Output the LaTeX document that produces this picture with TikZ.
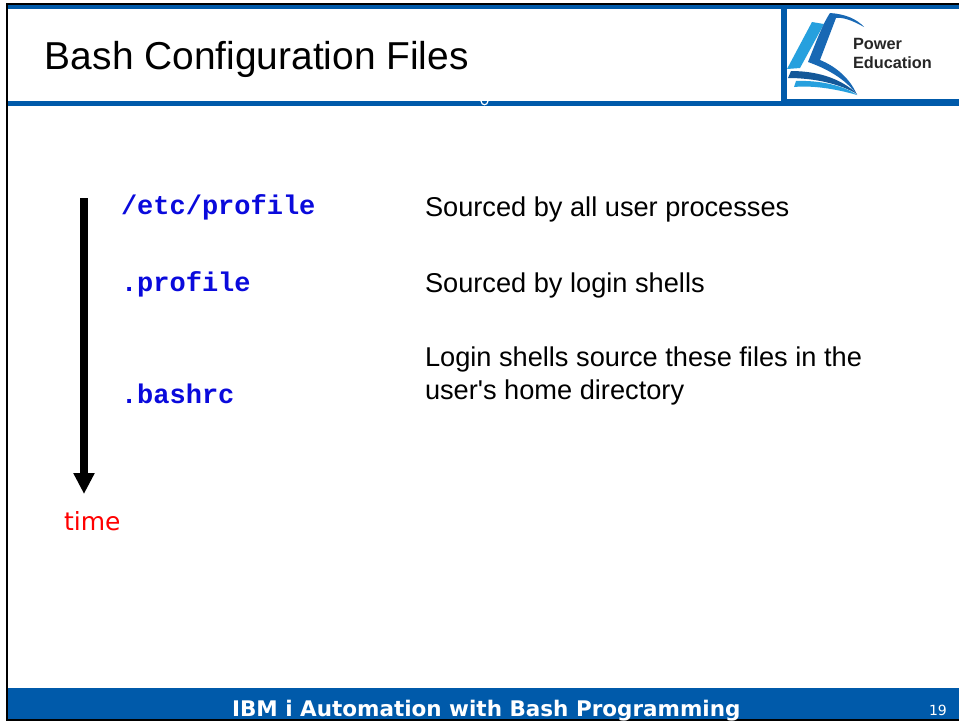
\documentclass[tikz,border=0pt]{standalone}
\usepackage{fontspec}
\usetikzlibrary{arrows.meta}
\setmainfont{Liberation Sans}
\newfontfamily\bodyfont{Liberation Sans}
\newfontfamily\codefont{Liberation Mono}
\newfontfamily\footfont{DejaVu Sans}
\definecolor{barblue}{RGB}{0,90,170}
\definecolor{codeblue}{RGB}{10,10,220}
\definecolor{logoA}{RGB}{38,160,222}
\definecolor{logoB}{RGB}{24,104,180}
\tikzset{
  x=1pt,y=-1pt,
  txt/.style={anchor=base west,inner sep=0pt,outer sep=0pt},
  body/.style={txt,font=\bodyfont\fontsize{27.2}{32}\selectfont,text=black},
  code/.style={txt,font=\codefont\bfseries\fontsize{27}{32}\selectfont,text=codeblue},
  band/.style={fill=barblue,draw=none},
  edge/.style={fill=black,draw=none}
}
\begin{document}
\begin{tikzpicture}
\useasboundingbox (0,0) rectangle (959,721);
\fill[white] (0,0) rectangle (959,721);
% frame
\path[edge] (6,3) rectangle (959,5);
\path[edge] (6,3) rectangle (8,721);
\path[edge] (6,719) rectangle (959,721);
% header bands
\path[band] (8,5) rectangle (959,9);
\path[band] (8,101) rectangle (781,106);
\path[band] (781,5) rectangle (787,106);
\path[band] (787,99) rectangle (959,106);
% hidden descender
\draw[white,line width=1.2pt] (481,101) .. controls (481.5,106) and (487.5,106) .. (488,101);
% footer
\path[band] (8,688) rectangle (959,719);
\node[txt,font=\footfont\bfseries\fontsize{21.5}{26}\selectfont,text=white] (foot) at (232,716) {IBM i Automation with Bash Programming};
\node[txt,font=\footfont\fontsize{14}{16}\selectfont,text=white] (page) at (929,715) {19};
% title
\node[txt,font=\bodyfont\fontsize{38.9}{44}\selectfont] (title) at (45,69) {Bash Configuration Files};
% logo
\fill[logoA] (787,69) -- (812,22) -- (824,24) -- (800,68) -- cycle;
\fill[logoB] (808,62) .. controls (815,45) and (822,25) .. (830,13) .. controls (845,14) and (857,19) .. (864,27) .. controls (852,20) and (842,17) .. (836,18) -- (820,60) .. controls (835,66) and (850,78) .. (857,95) .. controls (845,78) and (825,68) .. (808,62) -- cycle;
\fill[logoB!85!black] (788,78) -- (791,71) .. controls (820,71) and (843,80) .. (857,94) .. controls (840,84) and (815,78) .. (788,78) -- cycle;
\fill[logoA] (794,87) -- (796,81) .. controls (820,80) and (845,86) .. (857,95) .. controls (840,90) and (815,85) .. (794,87) -- cycle;
\node[txt,font=\bodyfont\bfseries\fontsize{16.3}{18}\selectfont,text=black!85] (logo1) at (853,49) {Power};
\node[txt,font=\bodyfont\bfseries\fontsize{16.3}{18}\selectfont,text=black!85] (logo2) at (853,68) {Education};
% files
\node[code] (f1) at (121,214) {/etc/profile};
\node[code] (f2) at (121,291) {.profile};
\node[code] (f3) at (121,403) {.bashrc};
% descriptions
\node[body] (d1) at (425,216) {Sourced by all user processes};
\node[body] (d2) at (425,292) {Sourced by login shells};
\node[body] (d3a) at (425,366) {Login shells source these files in the};
\node[body] (d3b) at (425,399) {user's home directory};
% time arrow
\coordinate (tstart) at (84,198);
\coordinate (tend) at (84,494);
\draw[line width=7.5pt,-{Triangle[length=21pt,width=20pt]}] (tstart) -- (tend);
\node[txt,font=\footfont\fontsize{25}{30}\selectfont,text=red] (time) at (64,530) {time};
\end{tikzpicture}
\end{document}
